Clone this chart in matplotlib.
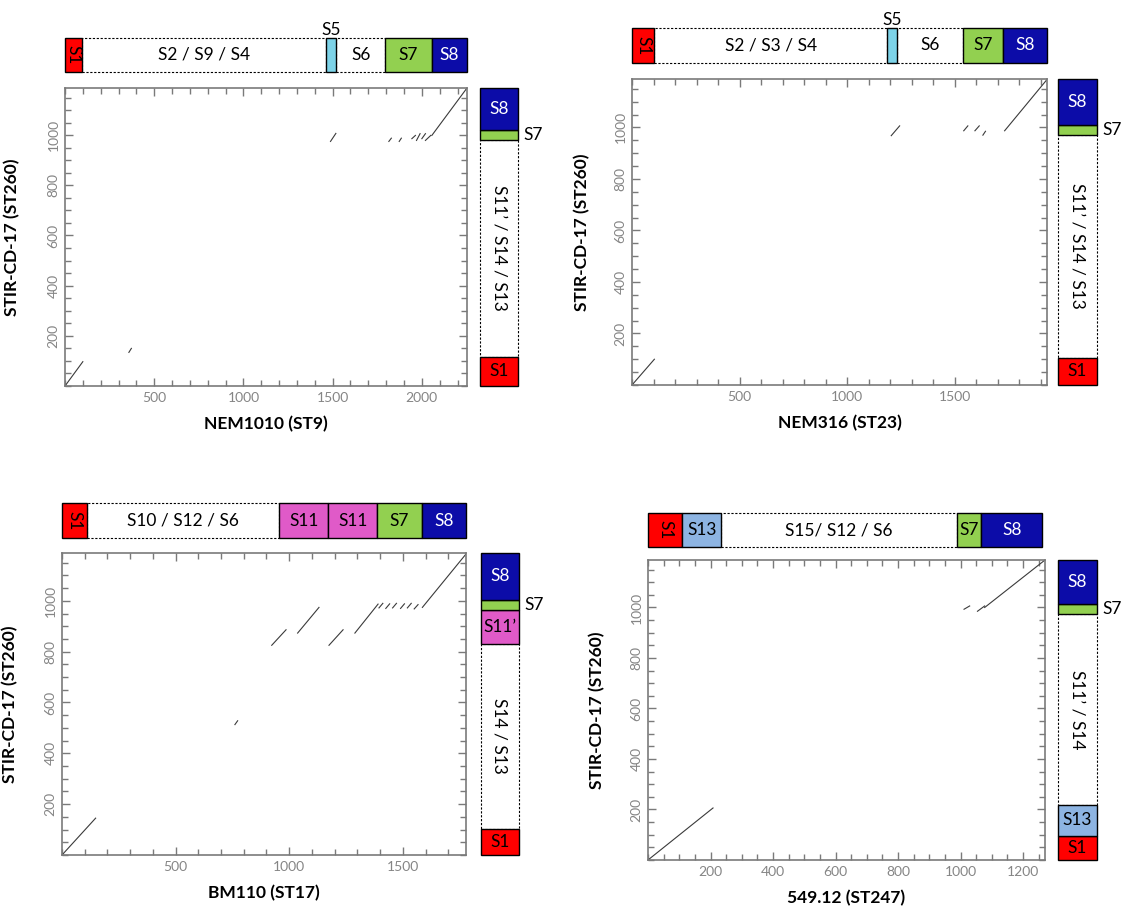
import matplotlib
matplotlib.use("Agg")
import matplotlib.pyplot as plt

plt.rcParams['font.family'] = ['Lato', 'DejaVu Sans']

W, H = 1132, 910

RED = '#ff0000'
CYAN = '#7dd3e8'
GREEN = '#92d050'
BLUE = '#0c0ca8'
PINK = '#e05ac8'
LBLUE = '#8db4e2'

y_label = 'STIR-CD-17 (ST260)'
y_len = 1188
y_ticks = [200, 400, 600, 800, 1000]

# --- NEM1010 (ST9)
p1_xlabel = 'NEM1010 (ST9)'
p1_xlen = 2253
p1_xticks = [500, 1000, 1500, 2000]
p1_top_edges = [0, 95, 1462, 1520, 1794, 2056, 2253]
p1_top_labels = ['S1', 'S2 / S9 / S4', 'S5', 'S6', 'S7', 'S8']
p1_top_colors = [RED, None, CYAN, None, GREEN, BLUE]
p1_right_edges = [0, 117, 982, 1019, 1188]
p1_right_labels = ['S1', 'S11’ / S14 / S13', 'S7', 'S8']
p1_right_colors = [RED, None, GREEN, BLUE]
p1_seg_x = [(0, 100), (358, 372), (1488, 1518), (1815, 1829), (1873, 1885),
            (1944, 1964), (1970, 1990), (2000, 2020), (2020, 2050), (2056, 2253)]
p1_seg_y = [(0, 97), (134, 150), (975, 1007), (975, 988), (975, 988),
            (986, 999), (979, 1006), (986, 1006), (979, 999), (999, 1188)]

# --- NEM316 (ST23)
p2_xlabel = 'NEM316 (ST23)'
p2_xlen = 1929
p2_xticks = [500, 1000, 1500]
p2_top_edges = [0, 104, 1185, 1232, 1539, 1724, 1929]
p2_top_labels = ['S1', 'S2 / S3 / S4', 'S5', 'S6', 'S7', 'S8']
p2_top_colors = [RED, None, CYAN, None, GREEN, BLUE]
p2_right_edges = [0, 106, 970, 1009, 1188]
p2_right_labels = ['S1', 'S11’ / S14 / S13', 'S7', 'S8']
p2_right_colors = [RED, None, GREEN, BLUE]
p2_seg_x = [(0, 104), (1205, 1244), (1542, 1561), (1594, 1614), (1631, 1643), (1732, 1929)]
p2_seg_y = [(0, 100), (968, 1006), (987, 1006), (987, 1006), (970, 985), (987, 1186)]

# --- BM110 (ST17)
p3_xlabel = 'BM110 (ST17)'
p3_xlen = 1778
p3_xticks = [500, 1000, 1500]
p3_top_edges = [0, 109, 956, 1172, 1387, 1583, 1778]
p3_top_labels = ['S1', 'S10 / S12 / S6', 'S11', 'S11', 'S7', 'S8']
p3_top_colors = [RED, None, PINK, PINK, GREEN, BLUE]
p3_right_edges = [0, 103, 831, 965, 1004, 1188]
p3_right_labels = ['S1', 'S14 / S13', 'S11’', 'S7', 'S8']
p3_right_colors = [RED, None, PINK, GREEN, BLUE]
p3_seg_x = [(0, 148), (761, 773), (923, 986), (1037, 1131), (1175, 1237), (1289, 1391),
            (1395, 1412), (1425, 1442), (1455, 1472), (1490, 1507), (1520, 1537),
            (1550, 1567), (1586, 1778)]
p3_seg_y = [(0, 145), (513, 528), (825, 886), (873, 974), (825, 886), (873, 987),
            (972, 990), (970, 988), (972, 990), (970, 988), (972, 990),
            (968, 985), (974, 1184)]

# --- 549.12 (ST247)
p4_xlabel = '549.12 (ST247)'
p4_xlen = 1270
p4_xticks = [200, 400, 600, 800, 1000, 1200]
p4_top_edges = [0, 110, 234, 989, 1066, 1262]
p4_top_labels = ['S1', 'S13', 'S15/ S12 / S6', 'S7', 'S8']
p4_top_colors = [RED, LBLUE, None, GREEN, BLUE]
p4_right_edges = [0, 97, 216, 973, 1012, 1188]
p4_right_labels = ['S1', 'S13', 'S11’ / S14', 'S7', 'S8']
p4_right_colors = [RED, LBLUE, None, GREEN, BLUE]
p4_seg_x = [(0, 208), (1011, 1029), (1054, 1077), (1077, 1270)]
p4_seg_y = [(0, 206), (993, 1006), (985, 1006), (1000, 1188)]


def box(x0, y0, x1, y1):
    return [x0 / W, 1 - y1 / H, (x1 - x0) / W, (y1 - y0) / H]


def label_style(lab, color, where):
    kw = dict(ha='center', va='center', fontsize=12.5, color='black')
    if lab == 'S8':
        kw['color'] = 'white'
    if where == 'right' and color is None:
        kw['rotation'] = -90
    if where == 'top' and lab == 'S1':
        kw['rotation'] = -90
    return kw


def draw_panel(fig, ax_px, top_px, right_px, xlen, xticks, xlabel, minor_x,
               top_edges, top_labels, top_colors,
               right_edges, right_labels, right_colors, seg_x, seg_y, ylab_x):
    ax = fig.add_axes(box(*ax_px))
    for (x0, x1), (y0, y1) in zip(seg_x, seg_y):
        ax.plot([x0, x1], [y0, y1], color='#3a3a3a', lw=0.8)
    ax.set_xlim(0, xlen)
    ax.set_ylim(0, y_len)
    ax.set_xticks(xticks)
    ax.set_xticklabels([str(t) for t in xticks])
    ax.set_yticks(y_ticks)
    ax.set_yticklabels([str(t) for t in y_ticks], rotation=90, va='center')
    ax.set_xticks([v for v in range(0, xlen, minor_x) if v not in xticks], minor=True)
    ax.set_yticks([v for v in range(0, y_len, 50) if v not in y_ticks], minor=True)
    ax.tick_params(which='both', direction='in', top=True, right=True,
                   color='#7a7a7a', labelcolor='#858585', labelsize=10, width=1)
    ax.tick_params(which='major', length=6, pad=4)
    ax.tick_params(which='minor', length=4)
    for sp in ax.spines.values():
        sp.set_color('#7a7a7a')
        sp.set_linewidth(1.2)
    ax.set_xlabel(xlabel, fontsize=12.5, fontweight='bold')
    ax.set_ylabel(y_label, fontsize=12.5, fontweight='bold')
    ax_w = ax_px[2] - ax_px[0]
    ax_h = ax_px[3] - ax_px[1]
    ax.xaxis.set_label_coords(0.5, -30 / ax_h, transform=ax.transAxes)
    ax.yaxis.set_label_coords((ylab_x - ax_px[0]) / ax_w, 0.5)

    # top bar
    at = fig.add_axes(box(*top_px))
    at.set_xlim(0, xlen)
    at.set_ylim(0, 1)
    at.axis('off')
    order = sorted(range(len(top_labels)), key=lambda i: top_colors[i] is not None)
    for i in order:
        e0, e1 = top_edges[i], top_edges[i + 1]
        c = top_colors[i]
        if c is None:
            at.barh(0.5, e1 - e0, left=e0, height=1, color='white', edgecolor='black',
                    lw=0.8, linestyle=(0, (2, 1.5)), clip_on=False)
        else:
            at.barh(0.5, e1 - e0, left=e0, height=1, color=c, edgecolor='black',
                    lw=1, clip_on=False)
    for i, lab in enumerate(top_labels):
        mid = (top_edges[i] + top_edges[i + 1]) / 2
        if lab == 'S5':
            at.text(mid, 1.0, lab, ha='center', va='bottom', fontsize=12.5)
        else:
            at.text(mid, 0.5, lab, **label_style(lab, top_colors[i], 'top'))

    # right bar
    ar = fig.add_axes(box(*right_px))
    ar.set_xlim(0, 1)
    ar.set_ylim(0, y_len)
    ar.axis('off')
    order = sorted(range(len(right_labels)), key=lambda i: right_colors[i] is not None)
    for i in order:
        e0, e1 = right_edges[i], right_edges[i + 1]
        c = right_colors[i]
        if c is None:
            ar.bar(0.5, e1 - e0, bottom=e0, width=1, color='white', edgecolor='black',
                   lw=0.8, linestyle=(0, (2, 1.5)), clip_on=False)
        else:
            ar.bar(0.5, e1 - e0, bottom=e0, width=1, color=c, edgecolor='black',
                   lw=1, clip_on=False)
    for i, lab in enumerate(right_labels):
        mid = (right_edges[i] + right_edges[i + 1]) / 2
        if lab == 'S7':
            ar.text(1.15, mid, lab, ha='left', va='center', fontsize=12.5)
        else:
            ar.text(0.5, mid, lab, **label_style(lab, right_colors[i], 'right'))
    return ax


fig = plt.figure(figsize=(W / 100, H / 100), dpi=100)

draw_panel(fig, (65, 88, 467, 386), (65, 38, 467, 72), (480, 88, 518, 386),
           p1_xlen, p1_xticks, p1_xlabel, 100,
           p1_top_edges, p1_top_labels, p1_top_colors,
           p1_right_edges, p1_right_labels, p1_right_colors, p1_seg_x, p1_seg_y, 20)
draw_panel(fig, (632, 79, 1047, 385), (632, 28, 1047, 63), (1058, 79, 1097, 385),
           p2_xlen, p2_xticks, p2_xlabel, 100,
           p2_top_edges, p2_top_labels, p2_top_colors,
           p2_right_edges, p2_right_labels, p2_right_colors, p2_seg_x, p2_seg_y, 590)
draw_panel(fig, (62, 553, 466, 855), (62, 503, 466, 538), (481, 553, 519, 855),
           p3_xlen, p3_xticks, p3_xlabel, 100,
           p3_top_edges, p3_top_labels, p3_top_colors,
           p3_right_edges, p3_right_labels, p3_right_colors, p3_seg_x, p3_seg_y, 18)
draw_panel(fig, (648, 560, 1045, 860), (648, 513, 1045, 547), (1058, 560, 1097, 860),
           p4_xlen, p4_xticks, p4_xlabel, 50,
           p4_top_edges, p4_top_labels, p4_top_colors,
           p4_right_edges, p4_right_labels, p4_right_colors, p4_seg_x, p4_seg_y, 605)

fig.savefig('out.png', dpi=100, facecolor='white')
